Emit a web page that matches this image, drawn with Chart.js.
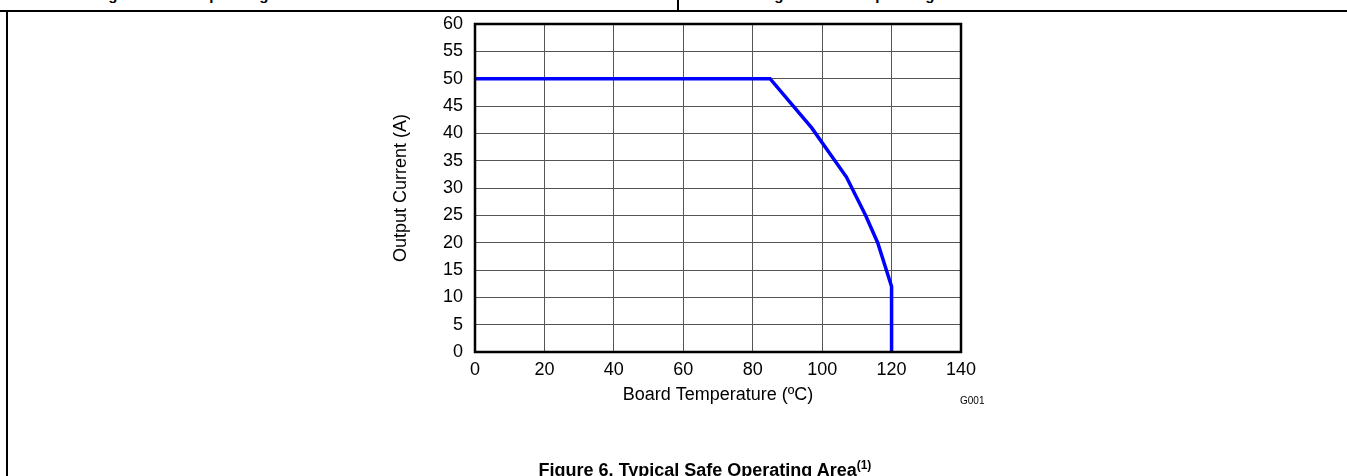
<!DOCTYPE html>
<html>
<head>
<meta charset="utf-8">
<script src="https://cdn.jsdelivr.net/npm/chart.js@4"></script>
<style>
  html, body { margin: 0; padding: 0; background: #fff; overflow: hidden; }
  body { width: 1347px; height: 476px; position: relative; font-family: "Liberation Sans", Arial, sans-serif; }
  #wrap { position: absolute; left: 0; top: 0; width: 1347px; height: 476px; }
  .hline { position: absolute; left: 0; top: 10px; width: 1347px; height: 1.5px; background: #000; }
  .vleft { position: absolute; left: 6px; top: 10px; width: 1.5px; height: 466px; background: #000; }
  .vtop { position: absolute; left: 677px; top: 0; width: 1.5px; height: 10px; background: #000; }
  .cut { position: absolute; font-weight: bold; font-size: 15px; white-space: nowrap; }
  .caption { position: absolute; left: 405px; width: 600px; top: 458px; text-align: center; font-weight: bold; font-size: 18px; white-space: nowrap; }
  .caption sup { font-size: 12px; }
  .tag { position: absolute; left: 960px; top: 395px; font-size: 10px; }
</style>
</head>
<body>
<div class="cut" style="left:95px; top:-14px;">Figure 4. Safe Operating Area</div>
<div class="cut" style="left:761px; top:-14px;">Figure 5. Safe Operating Area</div>
<div class="hline"></div>
<div class="vleft"></div>
<div class="vtop"></div>
<div id="wrap"><canvas id="myChart"></canvas></div>
<div class="tag">G001</div>
<div class="caption">Figure 6. Typical Safe Operating Area<sup>(1)</sup></div>

<script>
'use strict';

// board temperature (C) vs allowed output current (A)
let boardTemp = [0, 85, 97, 107, 112.5, 116, 120, 120];
let outputCurrent = [50, 50, 41, 32, 25, 20, 12, 0];

let xTicks = [0, 20, 40, 60, 80, 100, 120, 140];
let yTicks = [0, 5, 10, 15, 20, 25, 30, 35, 40, 45, 50, 55, 60];

let points = [];
for (let i = 0; i < boardTemp.length; i++) {
  points.push({ x: boardTemp[i], y: outputCurrent[i] });
}

const fontFamily = '"Liberation Sans", Arial, sans-serif';

// frame round the plot area
const boxBorder = {
  id: 'boxBorder',
  afterDraw(chart) {
    const a = chart.chartArea;
    const c = chart.ctx;
    c.save();
    c.strokeStyle = '#000';
    c.lineWidth = 2.5;
    c.strokeRect(a.left, a.top, a.right - a.left, a.bottom - a.top);
    c.restore();
  }
};

const ctx = document.getElementById('myChart').getContext('2d');

const myChart = new Chart(ctx, {
  type: 'line',
  data: {
    datasets: [{
      data: points,
      borderColor: '#0000ff',
      borderWidth: 3.5,
      pointRadius: 0,
      tension: 0,
      fill: false
    }]
  },
  options: {
    responsive: true,
    maintainAspectRatio: false,
    animation: false,
    layout: {
      padding: { left: 390, top: 24, right: 386, bottom: 70 }
    },
    plugins: {
      legend: { display: false },
      tooltip: { enabled: false }
    },
    scales: {
      x: {
        type: 'linear',
        min: xTicks[0],
        max: xTicks[xTicks.length - 1],
        afterBuildTicks: (s) => { s.ticks = xTicks.map(v => ({ value: v })); },
        afterFit: (s) => { s.height = 54; },
        grid: { color: '#555', lineWidth: 1, drawTicks: false },
        border: { display: false },
        ticks: { padding: 7, color: '#000', font: { family: fontFamily, size: 18 } },
        title: {
          display: true,
          text: 'Board Temperature (ºC)',
          color: '#000',
          padding: 0,
          font: { family: fontFamily, size: 18 }
        }
      },
      y: {
        min: yTicks[0],
        max: yTicks[yTicks.length - 1],
        afterBuildTicks: (s) => { s.ticks = yTicks.map(v => ({ value: v })); },
        afterFit: (s) => { s.width = 85; },
        grid: { color: '#555', lineWidth: 1, drawTicks: false },
        border: { display: false },
        ticks: { padding: 12, color: '#000', font: { family: fontFamily, size: 18 } },
        title: {
          display: true,
          text: 'Output Current (A)',
          color: '#000',
          padding: 0,
          font: { family: fontFamily, size: 18 }
        }
      }
    }
  },
  plugins: [boxBorder]
});
</script>
</body>
</html>
